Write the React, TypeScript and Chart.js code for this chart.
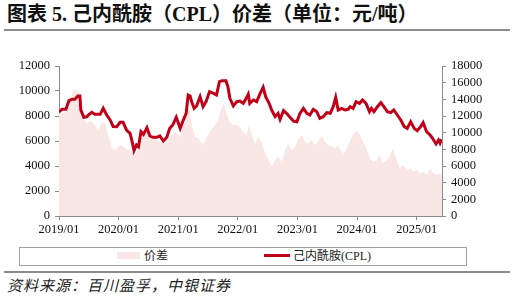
import React, { useEffect, useRef } from "react";
import { Chart, registerables } from "chart.js";

Chart.register(...registerables);

// months since 2019/01 for each reading
const cplMonths = [
  0, 0.6, 1.4, 2.0, 2.6, 3.2, 3.8, 4.2, 4.4, 5.0, 5.6, 5.9, 6.6, 7.2, 8.3, 8.9, 9.6, 10.3, 10.9, 11.6,
  12.3, 12.9, 13.6, 14.3, 14.7, 15.1, 15.6, 16.0, 16.5, 17.0, 17.7, 18.3, 18.9, 19.7, 20.3, 21.0, 21.7,
  22.3, 22.9, 23.6, 24.4, 24.9, 25.6, 26.0, 26.4, 26.7, 27.2, 27.7, 28.4, 29.0, 29.6, 30.3, 31.1, 31.7,
  32.3, 32.8, 33.6, 34.0, 34.4, 35.1, 35.8, 36.4, 37.1, 37.8, 38.1, 38.4, 39.1, 39.8, 40.5, 41.1, 41.6,
  42.3, 42.8, 43.5, 44.1, 44.5, 45.2, 45.8, 46.5, 47.2, 47.9, 48.5, 49.2, 49.9, 50.5, 51.2, 51.9, 52.5,
  53.2, 53.9, 54.6, 55.2, 55.7, 56.2, 56.9, 57.6, 58.2, 58.6, 59.2, 59.8, 60.5, 61.1, 61.8, 62.5, 62.9,
  63.4, 64.1, 64.8, 65.4, 66.1, 66.8, 67.4, 68.1, 68.8, 69.5, 70.1, 70.8, 71.5, 72.1, 72.8, 73.3, 74.0,
  74.7, 75.2, 75.9, 76.4, 76.7, 77.0,
];
const cplValues = [
  12500, 12800, 12800, 13840, 14000, 14000, 14400, 14400, 12700, 11840, 11900, 12100, 12440, 12200, 12200,
  12920, 12120, 11520, 10720, 10700, 11240, 11240, 10320, 9920, 9000, 7840, 8520, 8300, 10120, 9800, 10600,
  9600, 9440, 9440, 9600, 9000, 9440, 10520, 10920, 11840, 10520, 11320, 12320, 14520, 14400, 13720, 12920,
  13200, 14320, 13120, 13720, 14920, 14720, 14520, 16120, 16240, 16240, 15520, 14120, 13200, 13720, 13800,
  13520, 14240, 14600, 13520, 13920, 13720, 14720, 15440, 14320, 13520, 12720, 11920, 12320, 11600, 12640,
  12320, 11840, 11400, 11320, 12320, 12920, 12320, 12120, 12800, 12520, 11720, 11920, 12400, 12320, 13120,
  14240, 12720, 12920, 12720, 12800, 13120, 12920, 13720, 13520, 13920, 13520, 12520, 12920, 12520, 13120,
  13600, 13120, 12520, 12400, 12720, 12120, 11520, 10720, 10520, 11320, 10520, 10240, 10720, 11200, 10120,
  9720, 9320, 8640, 9120, 8760, 9200,
];

const spreadMonths = [
  0, 0.6, 1.2, 1.8, 2.4, 2.8, 3.4, 3.8, 4.2, 4.6, 5.2, 5.6, 6.2, 6.6, 7.2, 7.9, 8.7, 9.3, 9.9, 10.7, 11.3,
  11.9, 12.7, 13.3, 13.9, 14.5, 14.9, 15.3, 15.7, 16.3, 16.9, 17.7, 18.3, 18.9, 19.7, 20.3, 20.9, 21.7,
  22.3, 23.4, 24.4, 25.0, 25.8, 26.2, 26.8, 27.4, 28.0, 29.0, 29.8, 30.4, 31.4, 32.0, 32.8, 33.2, 33.8,
  34.4, 35.0, 35.8, 36.4, 37.0, 37.8, 38.2, 38.9, 39.5, 40.1, 40.9, 41.5, 42.1, 42.9, 43.5, 44.1, 44.9,
  45.5, 46.1, 46.9, 47.5, 48.1, 48.9, 49.5, 50.1, 50.9, 51.5, 52.1, 52.9, 53.5, 54.2, 55.0, 55.6, 56.2,
  56.6, 57.2, 58.0, 58.6, 59.2, 60.0, 60.6, 61.2, 62.0, 62.6, 63.2, 64.0, 64.6, 65.2, 66.0, 66.6, 67.2,
  68.0, 68.6, 69.2, 70.1, 70.7, 71.3, 72.1, 72.7, 73.3, 74.1, 74.7, 75.3, 76.1, 76.7, 77.1,
];
const spreadValues = [
  8200, 8200, 8300, 8480, 9200, 10130, 10000, 10130, 9800, 8200, 7700, 7400, 7600, 7550, 7280, 6880, 7550,
  7400, 6480, 5400, 5280, 5540, 5680, 5400, 5280, 5200, 5000, 4900, 5100, 6080, 6600, 7000, 6100, 6240,
  6100, 6000, 5900, 6080, 6350, 6750, 6350, 7150, 7950, 8750, 7150, 6350, 6240, 5680, 6350, 6750, 7280,
  7680, 8750, 9000, 8080, 7550, 7280, 7280, 7150, 6750, 6480, 7280, 6350, 5800, 6350, 5800, 5000, 4480,
  3950, 4480, 4750, 4350, 5280, 5800, 5280, 5540, 6080, 6480, 5950, 5800, 6080, 5680, 5950, 6400, 5950,
  5680, 5540, 5400, 5680, 5280, 5000, 5400, 6080, 6480, 6800, 6480, 5950, 5280, 4610, 4350, 4480, 4880,
  4220, 4480, 4750, 5400, 4480, 3820, 4080, 3680, 3820, 3550, 3680, 3420, 3550, 3280, 3820, 3420, 3280,
  3420, 3150,
];

const yearLabels = ["2019/01", "2020/01", "2021/01", "2022/01", "2023/01", "2024/01", "2025/01"];
const leftTicks = [0, 2000, 4000, 6000, 8000, 10000, 12000];
const rightTicks = [0, 2000, 4000, 6000, 8000, 10000, 12000, 14000, 16000, 18000];
const xMax = 77.1;

const title = "图表 5. 己内酰胺（CPL）价差（单位：元/吨）";
const seriesNames = ["价差", "己内酰胺(CPL)"];
const source = "资料来源：百川盈孚，中银证券";

const RED = "#c00018";
const PINK = "#f9e7e6";
const AXIS = "#8a8a8a";
const FONT = '"Liberation Serif", "Times New Roman", serif';

export default function App() {
  const ref = useRef<HTMLCanvasElement>(null);

  useEffect(() => {
    if (!ref.current) return;
    const tickFont = { family: FONT, size: 12.5 };
    const chart = new Chart(ref.current, {
      type: "line",
      data: {
        datasets: [
          {
            label: seriesNames[1],
            data: cplMonths.map((m, i) => ({ x: m, y: cplValues[i] })),
            borderColor: RED,
            borderWidth: 3,
            pointRadius: 0,
            fill: false,
            yAxisID: "yR",
            tension: 0,
            order: 0,
          },
          {
            label: seriesNames[0],
            data: spreadMonths.map((m, i) => ({ x: m, y: spreadValues[i] })),
            borderWidth: 0,
            borderColor: PINK,
            backgroundColor: PINK,
            pointRadius: 0,
            fill: "origin",
            yAxisID: "yL",
            tension: 0,
            order: 1,
          },
        ],
      },
      options: {
        animation: false,
        responsive: false,
        devicePixelRatio: 1,
        layout: { padding: { top: 26, bottom: 0, left: 0, right: 0 } },
        plugins: { legend: { display: false }, tooltip: { enabled: false } },
        scales: {
          x: {
            type: "linear",
            min: 0,
            max: xMax,
            afterBuildTicks: (s: any) => {
              s.ticks = yearLabels.map((_, i) => ({ value: i * 12 }));
            },
            afterFit: (s: any) => {
              s.height = 29;
            },
            ticks: {
              autoSkip: false,
              maxRotation: 0,
              padding: 2,
              color: "#111",
              font: tickFont,
              callback: (v: any) => yearLabels[Math.round(Number(v) / 12)],
            },
            grid: { drawOnChartArea: false, tickLength: 4, color: AXIS },
            border: { color: AXIS, width: 1 },
          },
          yL: {
            type: "linear",
            position: "left",
            min: 0,
            max: 12000,
            afterBuildTicks: (s: any) => {
              s.ticks = leftTicks.map((v) => ({ value: v }));
            },
            afterFit: (s: any) => {
              s.width = 59;
            },
            ticks: {
              autoSkip: false,
              padding: 5,
              color: "#111",
              font: tickFont,
              callback: (v: any) => String(v),
            },
            grid: { drawOnChartArea: false, tickLength: 4, color: AXIS },
            border: { color: AXIS, width: 1 },
          },
          yR: {
            type: "linear",
            position: "right",
            min: 0,
            max: 18000,
            afterBuildTicks: (s: any) => {
              s.ticks = rightTicks.map((v) => ({ value: v }));
            },
            afterFit: (s: any) => {
              s.width = 73;
            },
            ticks: {
              autoSkip: false,
              padding: 5,
              color: "#111",
              font: tickFont,
              callback: (v: any) => String(v),
            },
            grid: { drawOnChartArea: false, tickLength: 4, color: AXIS },
            border: { color: AXIS, width: 1 },
          },
        },
      },
    });
    return () => chart.destroy();
  }, []);

  const cjk = '"Liberation Serif", "Noto Sans CJK SC", serif';

  return (
    <div
      style={{
        position: "fixed",
        left: 0,
        top: 0,
        width: 515,
        height: 299,
        background: "#fff",
        overflow: "hidden",
      }}
    >
      <div
        style={{
          position: "absolute",
          left: 7,
          top: 3,
          fontFamily: cjk,
          fontWeight: "bold",
          fontSize: 20,
          lineHeight: "22px",
          color: "#111",
          whiteSpace: "nowrap",
        }}
      >
        {title}
      </div>
      <div style={{ position: "absolute", left: 4, top: 29, width: 506, height: 2, background: "#8c8c8c" }} />
      <canvas
        ref={ref}
        width={515}
        height={205}
        style={{ position: "absolute", left: 0, top: 40, width: 515, height: 205 }}
      />
      <div
        style={{
          position: "absolute",
          left: 19,
          top: 247,
          width: 446,
          height: 17,
          border: "1px solid #a0a0a0",
        }}
      />
      <div style={{ position: "absolute", left: 117, top: 252, width: 23, height: 7, background: PINK }} />
      <div
        style={{
          position: "absolute",
          left: 144,
          top: 248,
          fontFamily: cjk,
          fontSize: 12,
          lineHeight: "16px",
          color: "#222",
          whiteSpace: "nowrap",
        }}
      >
        {seriesNames[0]}
      </div>
      <div style={{ position: "absolute", left: 264, top: 254, width: 26, height: 3, background: RED }} />
      <div
        style={{
          position: "absolute",
          left: 293,
          top: 248,
          fontFamily: cjk,
          fontSize: 12,
          lineHeight: "16px",
          color: "#222",
          whiteSpace: "nowrap",
        }}
      >
        {seriesNames[1]}
      </div>
      <div style={{ position: "absolute", left: 4, top: 271, width: 506, height: 2, background: "#8c8c8c" }} />
      <div
        style={{
          position: "absolute",
          left: 7,
          top: 276,
          fontFamily: '"Noto Sans CJK SC", sans-serif',
          fontStyle: "italic",
          fontSize: 15,
          letterSpacing: 1,
          lineHeight: "18px",
          color: "#222",
          whiteSpace: "nowrap",
        }}
      >
        {source}
      </div>
    </div>
  );
}
